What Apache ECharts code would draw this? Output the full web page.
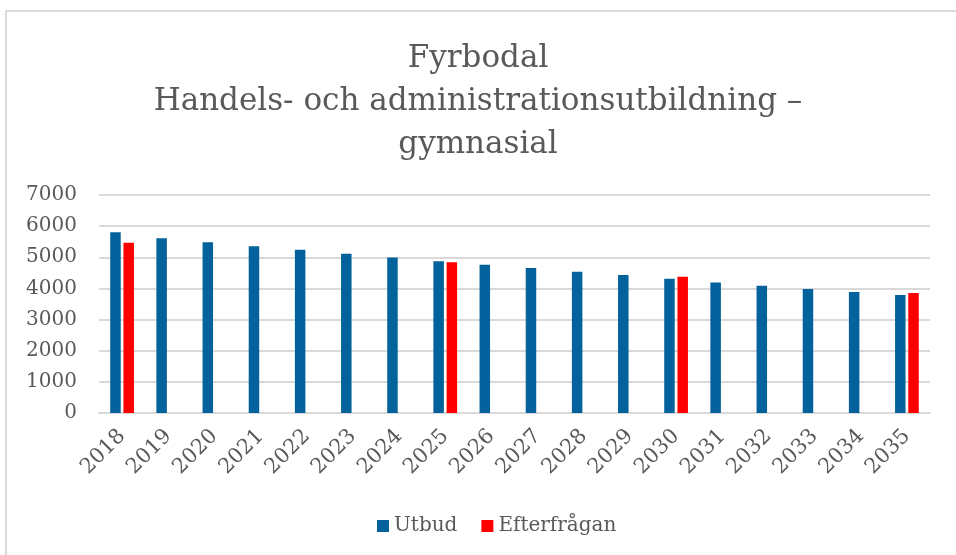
<!DOCTYPE html>
<html>
<head>
<meta charset="utf-8">
<script src="https://cdn.jsdelivr.net/npm/echarts@6/dist/echarts.min.js"></script>
<style>
  html, body { margin: 0; padding: 0; background: #fff; overflow: hidden; }
  #frame { position: absolute; left: 5px; top: 10px; width: 1000px; height: 600px; border-left: 2px solid #d9d9d9; border-top: 2px solid #d9d9d9; }
  #chart { position: absolute; left: 0; top: 0; width: 956px; height: 555px; }
</style>
</head>
<body>
<div id="frame"></div>
<div id="chart"></div>
<script>
// år på x-axeln
const years = ['2018', '2019', '2020', '2021', '2022', '2023', '2024', '2025', '2026',
  '2027', '2028', '2029', '2030', '2031', '2032', '2033', '2034', '2035'];
// Utbud per år
const utbud = [5806, 5613, 5484, 5355, 5239, 5110, 4990, 4871, 4764,
  4658, 4539, 4432, 4313, 4194, 4087, 3980, 3884, 3787];
// Efterfrågan finns bara för vissa år
const efterfragan = [5465, null, null, null, null, null, null, 4839, null,
  null, null, null, 4377, null, null, null, null, 3852];

const font = '"DejaVu Serif", "Liberation Serif", serif';
const chart = echarts.init(document.getElementById('chart'));

chart.setOption({
  animation: false,
  title: {
    text: 'Fyrbodal\nHandels- och administrationsutbildning –\ngymnasial',
    left: 'center',
    top: 32,
    textStyle: {
      fontFamily: font,
      fontSize: 31,
      fontWeight: 'normal',
      color: '#595959',
      lineHeight: 43
    }
  },
  legend: {
    data: ['Utbud', 'Efterfrågan'],
    bottom: 14,
    left: 372,
    itemWidth: 12,
    itemHeight: 12,
    itemGap: 24,
    icon: 'rect',
    textStyle: { fontFamily: font, fontSize: 20, color: '#595959' }
  },
  grid: {
    left: 99,
    right: 26,
    top: 195,
    bottom: 142
  },
  xAxis: {
    type: 'category',
    data: years,
    axisLine: { lineStyle: { color: '#d9d9d9', width: 2 } },
    axisTick: { show: false },
    axisLabel: {
      rotate: 45,
      margin: 20,
      fontFamily: font,
      fontSize: 21,
      color: '#595959'
    }
  },
  yAxis: {
    type: 'value',
    min: 0,
    max: 7000,
    interval: 1000,
    axisLine: { show: false },
    axisTick: { show: false },
    axisLabel: {
      margin: 22,
      fontFamily: font,
      fontSize: 20,
      color: '#595959',
      formatter: v => String(v)
    },
    splitLine: { lineStyle: { color: '#d9d9d9', width: 2 } }
  },
  series: [
    {
      name: 'Utbud',
      type: 'bar',
      data: utbud,
      barWidth: 10.5,
      barGap: '26%',
      itemStyle: { color: '#03629b' }
    },
    {
      name: 'Efterfrågan',
      type: 'bar',
      data: efterfragan,
      barWidth: 10.5,
      itemStyle: { color: '#ff0000' }
    }
  ]
});
</script>
</body>
</html>
